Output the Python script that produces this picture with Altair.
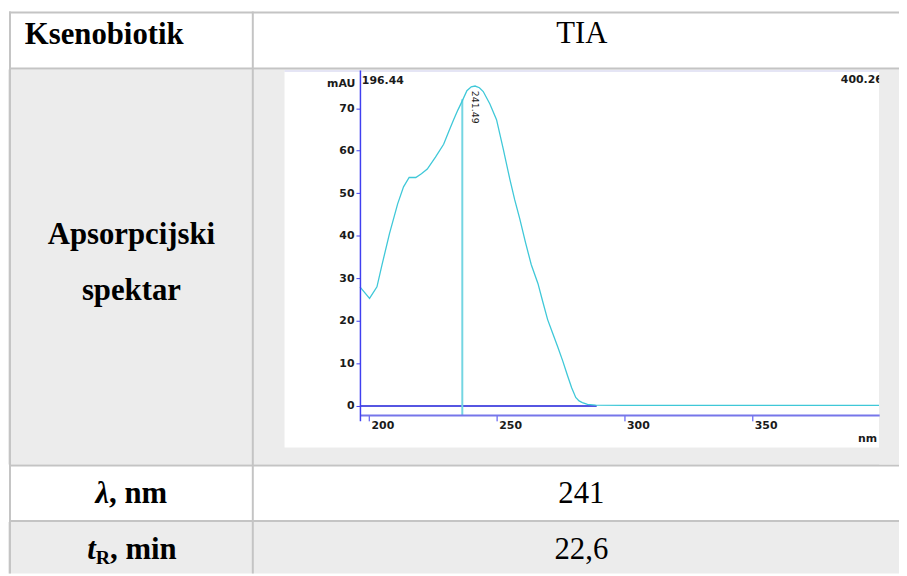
import altair as alt
import pandas as pd

# ---------------- data ----------------
wavelength_nm = [196.44, 200.2, 203.1, 205.0, 208.0, 211.2, 213.5, 215.7, 218.3, 220.5,
                 222.8, 226.0, 229.2, 231.2, 233.1, 234.8, 236.4, 238.3, 240.0, 241.5,
                 243.2, 244.7, 247.3, 249.9, 252.5, 255.1, 257.0, 259.0, 261.2, 263.5,
                 266.1, 268.0, 269.9, 271.8, 273.8, 275.8, 277.7, 279.3, 280.9, 282.2,
                 283.5, 285.5, 288.7, 300.0, 350.0, 399.66]
absorbance_mau = [28.0, 25.3, 28.0, 33.0, 40.5, 47.5, 51.5, 53.7, 53.7, 54.6,
                  55.7, 58.5, 61.5, 64.5, 67.3, 69.6, 71.6, 74.1, 75.0, 75.2,
                  74.8, 73.9, 71.0, 67.3, 60.5, 53.3, 48.5, 44.0, 38.5, 33.2,
                  28.8, 24.5, 20.3, 17.2, 14.0, 10.6, 7.1, 4.3, 2.0, 1.2,
                  0.8, 0.4, 0.2, 0.15, 0.15, 0.15]
x_ticks = [200, 250, 300, 350]
y_ticks = [0, 10, 20, 30, 40, 50, 60, 70]
range_labels = ["196.44", "400.26"]
x_domain = [196.44, 399.66]          # visible part of the scan
y_domain = [-3.49, 78.97]
marker_nm = 236.5                     # vertical cursor line
marker_top = 72.1
peak_label_nm = 241.49
peak_label_y = 70.2
peak_label = "241.49"
zero_line_end_nm = 289.1

header_left, header_right = "Ksenobiotik", "TIA"
spectrum_label = ["Apsorpcijski", "spektar"]
lambda_value = "241"
tr_value = "22,6"

# ---------------- layout ----------------
W, H = 899, 568
spec = pd.DataFrame({"nm": wavelength_nm, "mAU": absorbance_mau})
one = pd.DataFrame({"k": [0]})

GRAY = "#ececec"
BORDER = "#c4c4c4"
CYAN = "#3fc8d8"
AXBLUE = "#4040f0"
TXT = "#1a1a1a"
SERIF = "Liberation Serif"
SANS = "DejaVu Sans"

x_scale = alt.Scale(domain=x_domain, range=[355.1, 879.0], nice=False, zero=False)
y_scale = alt.Scale(domain=y_domain, range=[414, 60], nice=False, zero=False)

x_axis = alt.Axis(values=x_ticks, offset=-160, grid=False, title=None,
                  domainColor="#7676ea", domainWidth=2, tickColor=AXBLUE,
                  tickSize=6, tickWidth=1, labelAlign="left", labelBaseline="top",
                  labelPadding=-1, labelOffset=2, labelFont=SANS, labelFontWeight="bold",
                  labelFontSize=11, labelColor=TXT, labelFlush=False,
                  labelOverlap=False, zindex=1)
y_axis = alt.Axis(values=y_ticks, offset=-355.1, grid=False, title=None,
                  domainColor=AXBLUE, domainWidth=1.5, tickColor=AXBLUE,
                  tickSize=4, tickWidth=1, labelAlign="right", labelBaseline="middle",
                  labelPadding=2, labelFont=SANS, labelFontWeight="bold",
                  labelFontSize=11, labelColor=TXT, labelFlush=False,
                  labelOverlap=False, zindex=1)


def rect(x, x2, y, y2, color):
    return alt.Chart(one).mark_rect(color=color).encode(
        x=alt.value(x), x2=alt.value(x2), y=alt.value(y), y2=alt.value(y2))


def hline(y, x, x2, color=BORDER, w=2):
    return alt.Chart(one).mark_rule(color=color, strokeWidth=w).encode(
        x=alt.value(x), x2=alt.value(x2), y=alt.value(y))


def vline(x, y, y2, color=BORDER, w=2):
    return alt.Chart(one).mark_rule(color=color, strokeWidth=w).encode(
        x=alt.value(x), y=alt.value(y), y2=alt.value(y2))


def text(t, x, y, size=31, weight="bold", style="normal", align="center",
         font=SERIF, color="#000000", angle=0):
    return alt.Chart(one).mark_text(text=t, align=align, baseline="alphabetic",
                                    font=font, fontSize=size, fontWeight=weight,
                                    fontStyle=style, color=color, angle=angle).encode(
        x=alt.value(x), y=alt.value(y))


layers = [
    # table backgrounds
    rect(0, W, 3, 58, "white"),
    rect(0, W, 59.5, 458, GRAY),
    rect(0, W, 460, 514, "white"),
    rect(0, W, 516, H, GRAY),
    # table borders
    hline(2, 1, W), hline(58.5, 1, W), hline(459, 1, W), hline(515, 1, W),
    vline(2, 1, H), vline(247, 1, H),
    # spectrum picture
    rect(279, 879, 60, 441, "white"),
    hline(61, 279, 879, color="#dcdcf2", w=1.5),
]

# spectrum marks, through the data scales
zero_line = alt.Chart(one).mark_rule(color="#5656e2", strokeWidth=2).encode(
    x=alt.X(datum=x_domain[0], type="quantitative", scale=x_scale, axis=x_axis),
    x2=alt.X2(datum=zero_line_end_nm),
    y=alt.Y(datum=0, type="quantitative", scale=y_scale, axis=y_axis))

marker = alt.Chart(one).mark_rule(color="#74d6e2", strokeWidth=2).encode(
    x=alt.X(datum=marker_nm, type="quantitative", scale=x_scale, axis=x_axis),
    y=alt.Y(datum=y_domain[0] + 1.39, type="quantitative", scale=y_scale, axis=y_axis),
    y2=alt.Y2(datum=marker_top))

curve = alt.Chart(spec).mark_line(color=CYAN, strokeWidth=1.3).encode(
    x=alt.X("nm:Q", scale=x_scale, axis=x_axis),
    y=alt.Y("mAU:Q", scale=y_scale, axis=y_axis),
    order="nm:Q")

peak_text = alt.Chart(one).mark_text(text=peak_label, font=SANS, fontSize=9.5,
                                     color=TXT, angle=90, align="center",
                                     baseline="middle").encode(
    x=alt.X(datum=peak_label_nm, type="quantitative", scale=x_scale, axis=x_axis),
    y=alt.Y(datum=peak_label_y, type="quantitative", scale=y_scale, axis=y_axis))

layers += [zero_line, marker, curve, peak_text]

# spectrum header texts
layers += [
    text("mAU", 350.5, 77, size=11, font=SANS, align="right", color=TXT),
    text(range_labels[0], 357, 73.7, size=11, font=SANS, align="left", color=TXT),
    text(range_labels[1], 840.3, 72.7, size=11, font=SANS, align="left", color=TXT),
    text("nm", 877, 435.3, size=11, font=SANS, align="right", color=TXT),
    # clip right edge of the picture
    rect(879, W, 60, 458, GRAY),
]

# table texts
layers += [
    text(header_left, 17, 34, align="left"),
    text(header_right, 579, 33, weight="normal"),
    text(spectrum_label[0], 124.5, 236),
    text(spectrum_label[1], 124.5, 292),
    text("\u03bb", 102, 497, style="italic", align="right"),
    text(", nm", 102, 497, align="left"),
    text(lambda_value, 578.5, 497, weight="normal"),
    text("t", 80, 553, style="italic", align="left"),
    text("R", 88.6, 558, size=20, align="left"),
    text(", min", 103, 553, align="left"),
    text(tr_value, 578.5, 553, weight="normal"),
]

chart = alt.layer(*layers).properties(
    width=W, height=H, autosize=alt.AutoSizeParams(type="none"),
    padding=0, background="white"
).configure_view(stroke=None)

chart.save("out.html", embed_options={"renderer": "svg", "actions": False})
